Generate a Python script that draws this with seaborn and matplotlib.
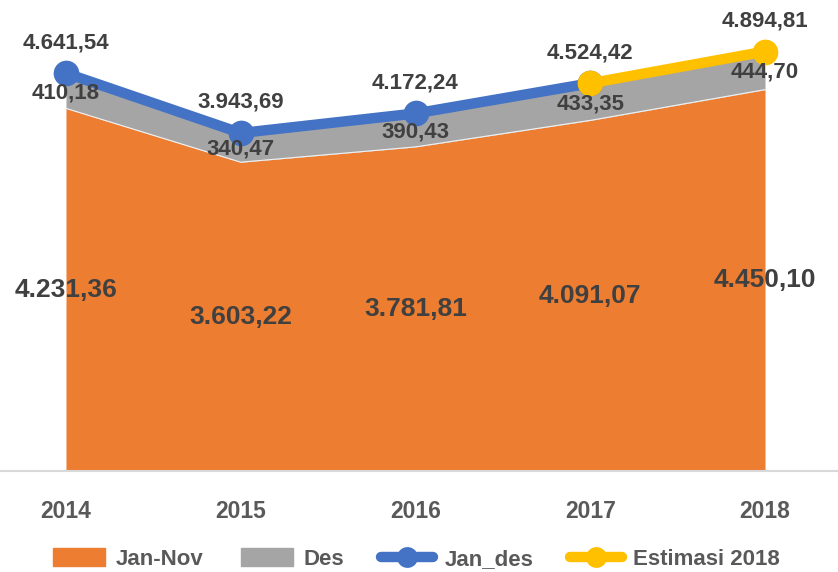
import matplotlib
matplotlib.use("Agg")
import matplotlib.pyplot as plt
import seaborn as sns
import pandas as pd
from matplotlib.patches import Patch
from matplotlib.lines import Line2D

years = [2014, 2015, 2016, 2017, 2018]
jan_nov = [4231.36, 3603.22, 3781.81, 4091.07, 4450.10]
des = [410.18, 340.47, 390.43, 433.35, 444.70]
jan_des_years = [2014, 2015, 2016, 2017]
jan_des = [4641.54, 3943.69, 4172.24, 4524.42]
est_years = [2017, 2018]
estimasi = [4524.42, 4894.81]
labels = ["Jan-Nov", "Des", "Jan_des", "Estimasi 2018"]

C_ORANGE = "#ED7D31"
C_GRAY = "#A5A5A5"
C_BLUE = "#4472C4"
C_YELLOW = "#FFC000"
TXT = "#404040"

sns.set_style("white")
plt.rcParams["font.family"] = ["Liberation Sans", "DejaVu Sans"]
plt.rcParams["font.weight"] = "bold"


def fmt(v):
    s = f"{v:,.2f}"
    return s.replace(",", "X").replace(".", ",").replace("X", ".")


fig = plt.figure(figsize=(8.38, 5.72), dpi=100)
ax = fig.add_axes([0, 101 / 572, 1, 471 / 572])

df = pd.DataFrame({"year": years, "jan_nov": jan_nov, "des": des})
df["top"] = df["jan_nov"] + df["des"]

ax.fill_between(df["year"], 0, df["jan_nov"], color=C_ORANGE, lw=0, zorder=1)
ax.fill_between(df["year"], df["jan_nov"], df["top"], color=C_GRAY, lw=0, zorder=1)
ax.plot(df["year"], df["jan_nov"], color="#F2F2F2", lw=0.8, zorder=2)

d1 = pd.DataFrame({"year": jan_des_years, "v": jan_des})
d2 = pd.DataFrame({"year": est_years, "v": estimasi})
sns.lineplot(data=d1, x="year", y="v", ax=ax, color=C_BLUE, lw=7.5, marker="o",
             markersize=18.5, markeredgewidth=0, zorder=3)
sns.lineplot(data=d2, x="year", y="v", ax=ax, color=C_YELLOW, lw=7.5, marker="o",
             markersize=18.5, markeredgewidth=0, zorder=4)

fs = 16
for x, a, b in zip(years, jan_nov, des):
    ax.text(x, a / 2, fmt(a), ha="center", va="center", fontsize=19,
            color=TXT, fontweight="bold", zorder=5)
    ax.text(x, a + b / 2 - 20, fmt(b), ha="center", va="center", fontsize=fs,
            color=TXT, fontweight="bold", zorder=5)
for x, v in zip(jan_des_years, jan_des):
    ax.annotate(fmt(v), (x, v), xytext=(0, 22), textcoords="offset points",
                ha="center", va="center", fontsize=fs, color=TXT,
                fontweight="bold", zorder=5)
ax.annotate(fmt(estimasi[-1]), (est_years[-1], estimasi[-1]), xytext=(0, 22),
            textcoords="offset points", ha="center", va="center", fontsize=fs,
            color=TXT, fontweight="bold", zorder=5)

ax.set_xlim(2014 - 66 / 174.75, 2018 + 73 / 174.75)
ax.set_ylim(0, 5496)
ax.set_xticks(years)
ax.set_xticklabels([str(y) for y in years], fontsize=16.5, color="#595959",
                   fontweight="bold")
ax.tick_params(axis="x", length=0, pad=21)
ax.set_yticks([])
ax.set_xlabel("")
ax.set_ylabel("")
for s in ["top", "right", "left"]:
    ax.spines[s].set_visible(False)
ax.spines["bottom"].set_color("#D9D9D9")
ax.spines["bottom"].set_linewidth(1.5)

handles = [
    Patch(color=C_ORANGE),
    Patch(color=C_GRAY),
    Line2D([], [], color=C_BLUE, lw=7.5, marker="o", markersize=15, markeredgewidth=0),
    Line2D([], [], color=C_YELLOW, lw=7.5, marker="o", markersize=15, markeredgewidth=0),
]
leg = fig.legend(handles, labels, loc="center", bbox_to_anchor=(0.497, 1 - 559 / 572),
                 ncol=4, frameon=False, fontsize=16, handlelength=2.35,
                 handleheight=0.85, columnspacing=1.65, handletextpad=0.5)
for t in leg.get_texts():
    t.set_color("#595959")
    t.set_fontweight("bold")

fig.savefig("out.png", dpi=100)
